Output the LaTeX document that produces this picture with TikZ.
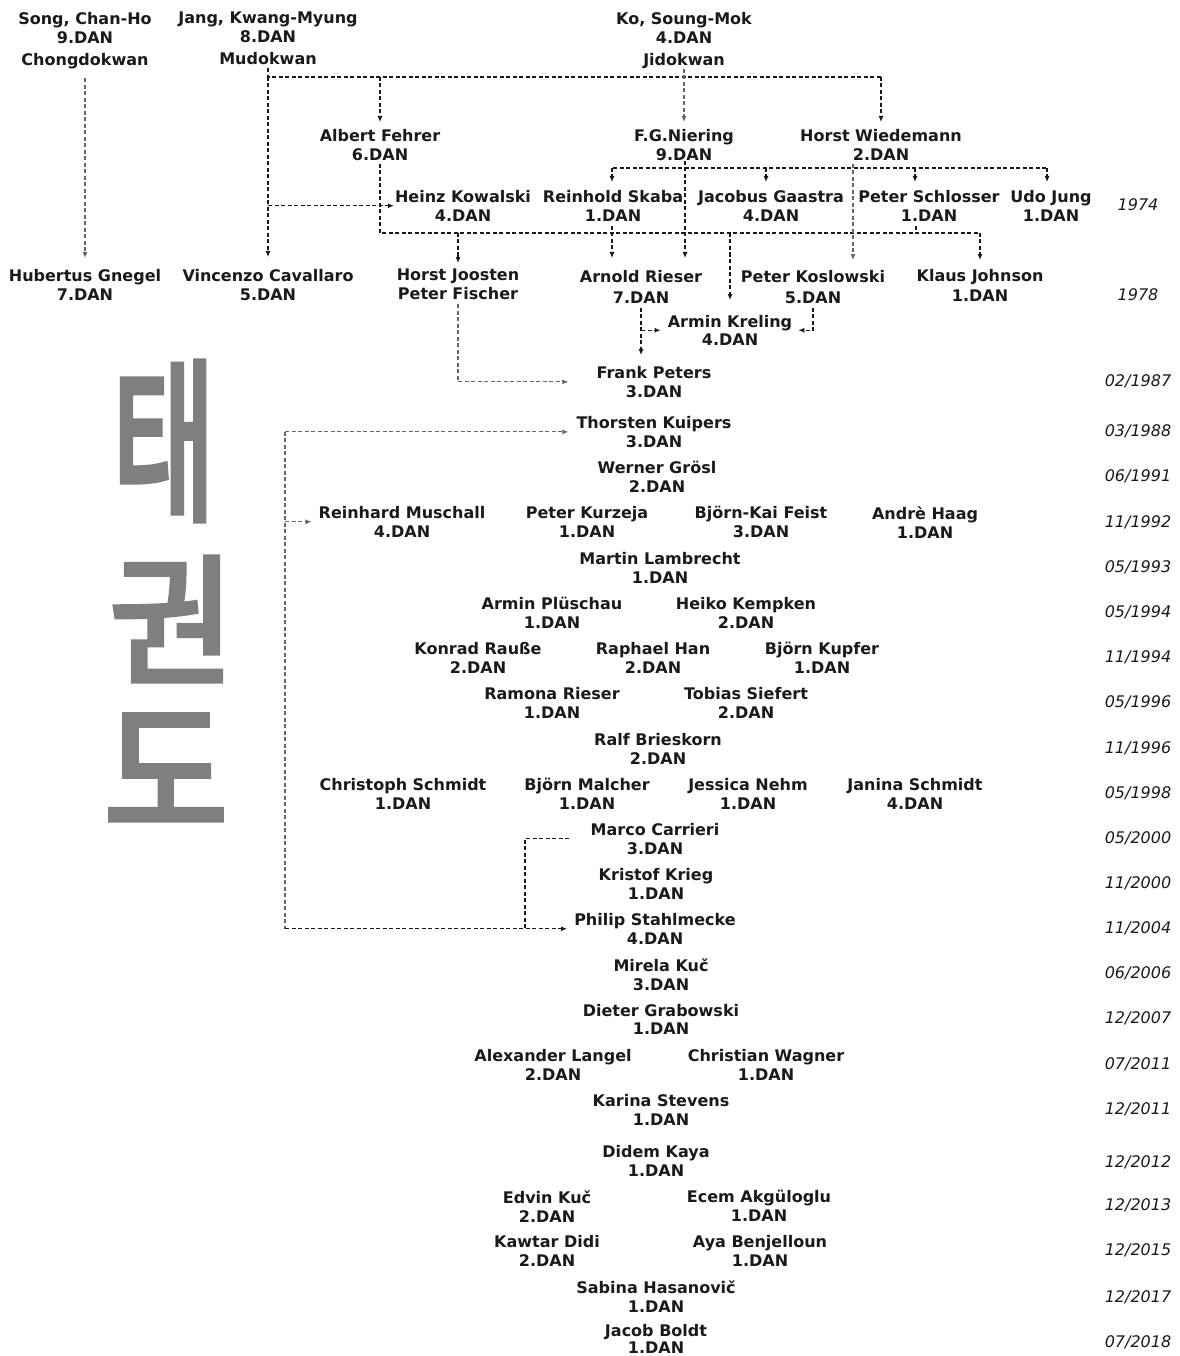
\documentclass[tikz,border=0pt]{standalone}
\usepackage{fontspec}
\setmainfont{DejaVu Sans}
\newfontfamily\krfont[FakeBold=4]{Noto Sans CJK KR}
\usetikzlibrary{arrows.meta}
\definecolor{brush}{HTML}{7F7F7F}
\definecolor{ink}{HTML}{1A1A1A}
\begin{document}
\begin{tikzpicture}[x=1pt,y=-1pt,
 p/.style={font=\bfseries\fontsize{16}{19}\selectfont, text=ink, align=center, inner sep=0pt, anchor=north},
 dt/.style={font=\itshape\fontsize{16}{19}\selectfont, text=ink, inner sep=0pt},
 ln/.style={draw=black!90, line width=1.1pt, dash pattern=on 4pt off 2.5pt},
 lg/.style={ln, draw=black!60},
 ar/.style={-{Latex[length=6pt,width=5pt]}},
 kr/.style={inner sep=0pt, text=brush}
]
\useasboundingbox[fill=white] (0,0) rectangle (1179,1356);

% helper coordinates
\coordinate (y77) at (0,77);
\coordinate (y168) at (0,168);
\coordinate (y233) at (0,233);
\coordinate (xl) at (285,0);
\coordinate (xm) at (525,0);

% Korean brush characters
\node[kr] (tae) at (164,441) {\scalebox{0.64}[1]{\krfont\fontsize{175}{175}\selectfont 태}};
\node[kr] (kwon) at (172,619) {\scalebox{0.97}[1]{\krfont\fontsize{140}{140}\selectfont 권}};
\node[kr] (do) at (166,770) {\scalebox{0.92}[1]{\krfont\fontsize{146}{146}\selectfont 도}};

% top masters
\node[p] (song) at (85,12) {Song, Chan-Ho\\9.DAN\\[3pt]Chongdokwan};
\node[p] (jang) at (268,12) {Jang, Kwang-Myung\\8.DAN\\[3pt]Mudokwan};
\node[p] (ko) at (684,12) {Ko, Soung-Mok\\4.DAN\\[3pt]Jidokwan};

% row 2
\node[p] (albert) at (380,129) {Albert Fehrer\\6.DAN};
\node[p] (niering) at (684,129) {F.G.Niering\\9.DAN};
\node[p] (wiedemann) at (881,129) {Horst Wiedemann\\2.DAN};

% row 3
\node[p] (heinz) at (463,190) {Heinz Kowalski\\4.DAN};
\node[p] (skaba) at (613,190) {Reinhold Skaba\\1.DAN};
\node[p] (gaastra) at (771,190) {Jacobus Gaastra\\4.DAN};
\node[p] (schlosser) at (929,190) {Peter Schlosser\\1.DAN};
\node[p] (udo) at (1051,190) {Udo Jung\\1.DAN};

% row 4
\node[p] (gnegel) at (85,269) {Hubertus Gnegel\\7.DAN};
\node[p] (cavallaro) at (268,269) {Vincenzo Cavallaro\\5.DAN};
\node[p] (joosten) at (458,269) {Horst Joosten\\Peter Fischer};
\node[p] (rieser) at (641,270) {Arnold Rieser\\[2pt]7.DAN};
\node[p] (koslowski) at (813,270) {Peter Koslowski\\[2pt]5.DAN};
\node[p] (johnson) at (980,269) {Klaus Johnson\\[1pt]1.DAN};
\node[p] (kreling) at (730,315) {Armin Kreling\\[-1pt]4.DAN};

% later students
\node[p] (frank) at (654,366) {Frank Peters\\3.DAN};
\node[p] (thorsten) at (654,416) {Thorsten Kuipers\\3.DAN};
\node[p] (groesl) at (657,461) {Werner Gr\"osl\\2.DAN};
\node[p] (muschall) at (402,506) {Reinhard Muschall\\4.DAN};
\node[p] (kurzeja) at (587,506) {Peter Kurzeja\\1.DAN};
\node[p] (feist) at (761,506) {Björn-Kai Feist\\3.DAN};
\node[p] (haag) at (925,506) {Andrè Haag\\1.DAN};
\node[p] (lambrecht) at (660,552) {Martin Lambrecht\\1.DAN};
\node[p] (plueschau) at (552,597) {Armin Plüschau\\1.DAN};
\node[p] (kempken) at (746,597) {Heiko Kempken\\2.DAN};
\node[p] (rausse) at (478,642) {Konrad Rauße\\2.DAN};
\node[p] (han) at (653,642) {Raphael Han\\2.DAN};
\node[p] (kupfer) at (822,642) {Björn Kupfer\\1.DAN};
\node[p] (ramona) at (552,687) {Ramona Rieser\\1.DAN};
\node[p] (siefert) at (746,687) {Tobias Siefert\\2.DAN};
\node[p] (brieskorn) at (658,733) {Ralf Brieskorn\\2.DAN};
\node[p] (cschmidt) at (403,778) {Christoph Schmidt\\1.DAN};
\node[p] (malcher) at (587,778) {Björn Malcher\\1.DAN};
\node[p] (nehm) at (748,778) {Jessica Nehm\\1.DAN};
\node[p] (jschmidt) at (915,778) {Janina Schmidt\\4.DAN};
\node[p] (carrieri) at (655,823) {Marco Carrieri\\3.DAN};
\node[p] (krieg) at (656,868) {Kristof Krieg\\1.DAN};
\node[p] (stahlmecke) at (655,913) {Philip Stahlmecke\\4.DAN};
\node[p] (kuc) at (661,958) {Mirela Kuč\\3.DAN};
\node[p] (grabowski) at (661,1004) {Dieter Grabowski\\[-1pt]1.DAN};
\node[p] (langel) at (553,1049) {Alexander Langel\\2.DAN};
\node[p] (wagner) at (766,1049) {Christian Wagner\\1.DAN};
\node[p] (stevens) at (661,1094) {Karina Stevens\\1.DAN};
\node[p] (kaya) at (656,1145) {Didem Kaya\\1.DAN};
\node[p] (edvin) at (547,1190) {Edvin Kuč\\2.DAN};
\node[p] (ecem) at (759,1190) {Ecem Akgüloglu\\1.DAN};
\node[p] (kawtar) at (547,1235) {Kawtar Didi\\2.DAN};
\node[p] (aya) at (760,1235) {Aya Benjelloun\\1.DAN};
\node[p] (hasanovic) at (656,1280) {Sabina Hasanovič\\1.DAN};
\node[p] (boldt) at (656,1324) {Jacob Boldt\\[-2pt]1.DAN};

% dates
\node[dt] (d1) at (1138,205) {1974};
\node[dt] (d2) at (1138,295) {1978};
\node[dt] (d3) at (1138,381) {02/1987};
\node[dt] (d4) at (1138,431) {03/1988};
\node[dt] (d5) at (1138,476) {06/1991};
\node[dt] (d6) at (1138,522) {11/1992};
\node[dt] (d7) at (1138,567) {05/1993};
\node[dt] (d8) at (1138,612) {05/1994};
\node[dt] (d9) at (1138,657) {11/1994};
\node[dt] (d10) at (1138,702) {05/1996};
\node[dt] (d11) at (1138,748) {11/1996};
\node[dt] (d12) at (1138,793) {05/1998};
\node[dt] (d13) at (1138,838) {05/2000};
\node[dt] (d14) at (1138,883) {11/2000};
\node[dt] (d15) at (1138,928) {11/2004};
\node[dt] (d16) at (1138,973) {06/2006};
\node[dt] (d17) at (1138,1018) {12/2007};
\node[dt] (d18) at (1138,1064) {07/2011};
\node[dt] (d19) at (1138,1109) {12/2011};
\node[dt] (d20) at (1138,1162) {12/2012};
\node[dt] (d21) at (1138,1205) {12/2013};
\node[dt] (d22) at (1138,1250) {12/2015};
\node[dt] (d23) at (1138,1297) {12/2017};
\node[dt] (d24) at (1138,1342) {07/2018};

% ---- connectors ----
% Song -> Gnegel
\draw[lg,ar,shorten <=9pt,shorten >=11pt] (song.south) -- (gnegel.north);
% Jang
\coordinate (jbus) at (jang.south |- y77);
\draw[ln] ([yshift=-3pt]jang.south) -- (jbus) -- (jbus -| wiedemann);
\draw[ln,ar,shorten >=7pt] (jbus -| wiedemann) -- (wiedemann.north);
\draw[ln,ar,shorten >=7pt] (jbus -| albert) -- (albert.north);
\draw[ln,ar,shorten >=12pt] (jbus) -- (cavallaro.north);
\draw[ln,ar,shorten >=1pt] (jbus |- heinz.west) -- (heinz.west);
% Ko -> Niering
\draw[lg,ar,shorten >=7pt] (ko.south) -- (niering.north);
% Albert bus
\coordinate (abus) at (albert.south |- y233);
\draw[ln] ([yshift=-3pt]albert.south) -- (abus) -- (abus -| johnson);
\draw[ln,ar,shorten >=9pt] (abus -| johnson) -- (johnson.north);
\draw[ln,ar,shorten >=6pt] (abus -| joosten) -- (joosten.north);
\draw[ln,ar,shorten >=15pt] (abus -| kreling) -- (kreling.north);
% Niering bus
\coordinate (nbus) at (niering.south |- y168);
\draw[ln] (skaba |- nbus) -- ([xshift=-4pt]udo |- nbus);
\foreach \n/\dx in {skaba/-1, gaastra/-5, schlosser/-14, udo/-4}
  \draw[ln,ar,shorten >=8pt] ([xshift=\dx pt]\n |- nbus) -- ([xshift=\dx pt]\n.north);
\draw[ln,ar,shorten >=12pt] ([xshift=1pt]niering.south) -- ([xshift=1pt]niering.south |- rieser.north);
% Skaba -> Rieser
\draw[ln,ar,shorten <=4pt,shorten >=12pt] ([xshift=-1pt]skaba.south) -- ([xshift=-1pt]skaba.south |- rieser.north);
% Wiedemann -> Koslowski
\draw[lg,ar,shorten <=3pt,shorten >=10pt] ([xshift=-28pt]wiedemann.south) -- ([xshift=-28pt]wiedemann.south |- koslowski.north);
% Schlosser stub
\draw[ln] ([xshift=-13pt,yshift=-4pt]schlosser.south) -- ([xshift=-13pt]schlosser.south |- abus);
% Rieser -> Frank, Kreling
\draw[ln,ar,shorten <=4pt,shorten >=11pt] (rieser.south) -- (rieser.south |- frank.north);
\draw[ln,ar,shorten >=7pt] (rieser.south |- kreling.west) -- (kreling.west);
% Koslowski -> Kreling
\draw[ln,ar,shorten <=4pt,shorten >=6pt] (koslowski.south) |- (kreling.east);
% Joosten -> Frank
\draw[lg,ar,shorten <=4pt,shorten >=28pt] (joosten.south) |- (frank.west);
% left trunk
\draw[lg] (thorsten.west -| xl) -- (stahlmecke.west -| xl);
\draw[lg,ar,shorten >=8pt] (thorsten.west -| xl) -- (thorsten.west);
\draw[lg,ar,shorten >=7pt] (muschall.west -| xl) -- (muschall.west);
\draw[ln,ar,shorten >=7pt] (stahlmecke.west -| xl) -- (stahlmecke.west);
% Carrieri -> Stahlmecke
\draw[ln,shorten <=21pt] (carrieri.west) -| (stahlmecke.west -| xm);
\end{tikzpicture}
\end{document}
